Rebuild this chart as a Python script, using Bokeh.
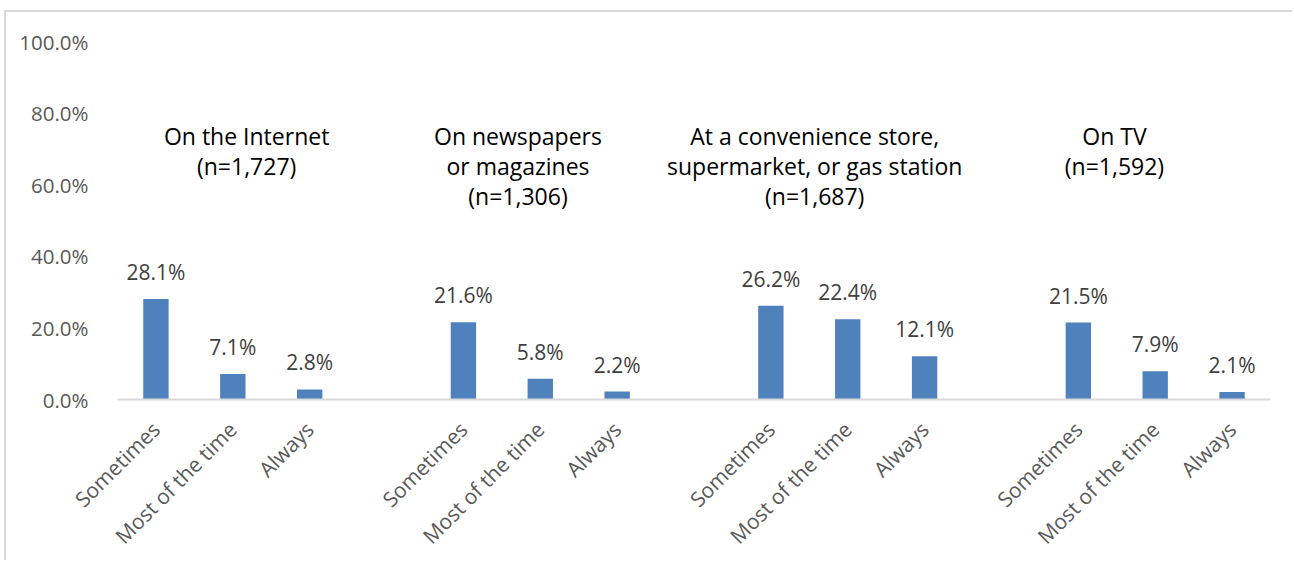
import math
from bokeh.plotting import figure
from bokeh.models import (ColumnDataSource, Range1d, FixedTicker, LabelSet, Label,
                          PrintfTickFormatter)
from bokeh.core.properties import value
from bokeh.embed import file_html
from bokeh.resources import INLINE

# ---- data ----
responses = ["Sometimes", "Most of the time", "Always"]
group_titles = [
    ["On the Internet", "(n=1,727)"],
    ["On newspapers", "or magazines", "(n=1,306)"],
    ["At a convenience store,", "supermarket, or gas station", "(n=1,687)"],
    ["On TV", "(n=1,592)"],
]
internet = [28.1, 7.1, 2.8]
newspapers = [21.6, 5.8, 2.2]
convenience = [26.2, 22.4, 12.1]
tv = [21.5, 7.9, 2.1]
y_ticks = [0, 20, 40, 60, 80, 100]

groups = [internet, newspapers, convenience, tv]

# ---- build table ----
xs, vals, labels, names = [], [], [], []
for g, series in enumerate(groups):
    for j, v in enumerate(series):
        xs.append(4 * g + j)
        vals.append(v)
        labels.append(f"{v:.1f}%")
        names.append(responses[j])
src = ColumnDataSource(dict(x=xs, top=vals, label=labels))

FONT = "Open Sans"

p = figure(width=1288, height=550, output_backend="svg", toolbar_location=None,
           x_range=Range1d(-0.5, 14.5), y_range=Range1d(0, 100),
           min_border_left=111, min_border_right=24, min_border_top=29,
           min_border_bottom=160)
p.styles = {"margin-left": "4px", "margin-top": "10px",
            "border-top": "2px solid #d9d9d9", "border-left": "2px solid #d9d9d9"}
p.outline_line_color = None
p.xgrid.grid_line_color = None
p.ygrid.grid_line_color = None

p.vbar(x="x", top="top", width=0.33, source=src, fill_color="#4F81BD", line_color=None)

p.add_layout(LabelSet(x="x", y="top", text="label", source=src, text_align="center",
                      text_baseline="alphabetic", y_offset=19, text_font=value(FONT),
                      text_font_size=value("21px"), text_color=value("#404040")))

# group titles
title_offsets = [0.18, -0.29, -0.43, -0.53]
for g, lines in enumerate(group_titles):
    cx = 4 * g + 1 + title_offsets[g]
    for k, line in enumerate(lines):
        p.add_layout(Label(x=cx, y=73.6 - 8.43 * k, text=line, text_align="center",
                           text_baseline="alphabetic", text_font=FONT,
                           text_font_size="23px", text_color="#000000"))

# axes
xa = p.xaxis[0]
xa.ticker = FixedTicker(ticks=xs)
xa.major_label_overrides = {x: n for x, n in zip(xs, names)}
xa.major_label_orientation = math.pi / 4
xa.major_tick_line_color = None
xa.minor_tick_line_color = None
xa.axis_line_color = "#D9D9D9"
xa.axis_line_width = 2
xa.major_label_text_font = FONT
xa.major_label_text_font_size = "21px"
xa.major_label_text_color = "#595959"
xa.major_label_standoff = 20

ya = p.yaxis[0]
ya.ticker = FixedTicker(ticks=y_ticks)
ya.formatter = PrintfTickFormatter(format="%.1f%%")
ya.axis_line_color = None
ya.major_tick_line_color = None
ya.minor_tick_line_color = None
ya.major_label_text_font = FONT
ya.major_label_text_font_size = "20.5px"
ya.major_label_text_color = "#595959"
ya.major_label_standoff = 23

open("out.html", "w").write(file_html(p, INLINE))
